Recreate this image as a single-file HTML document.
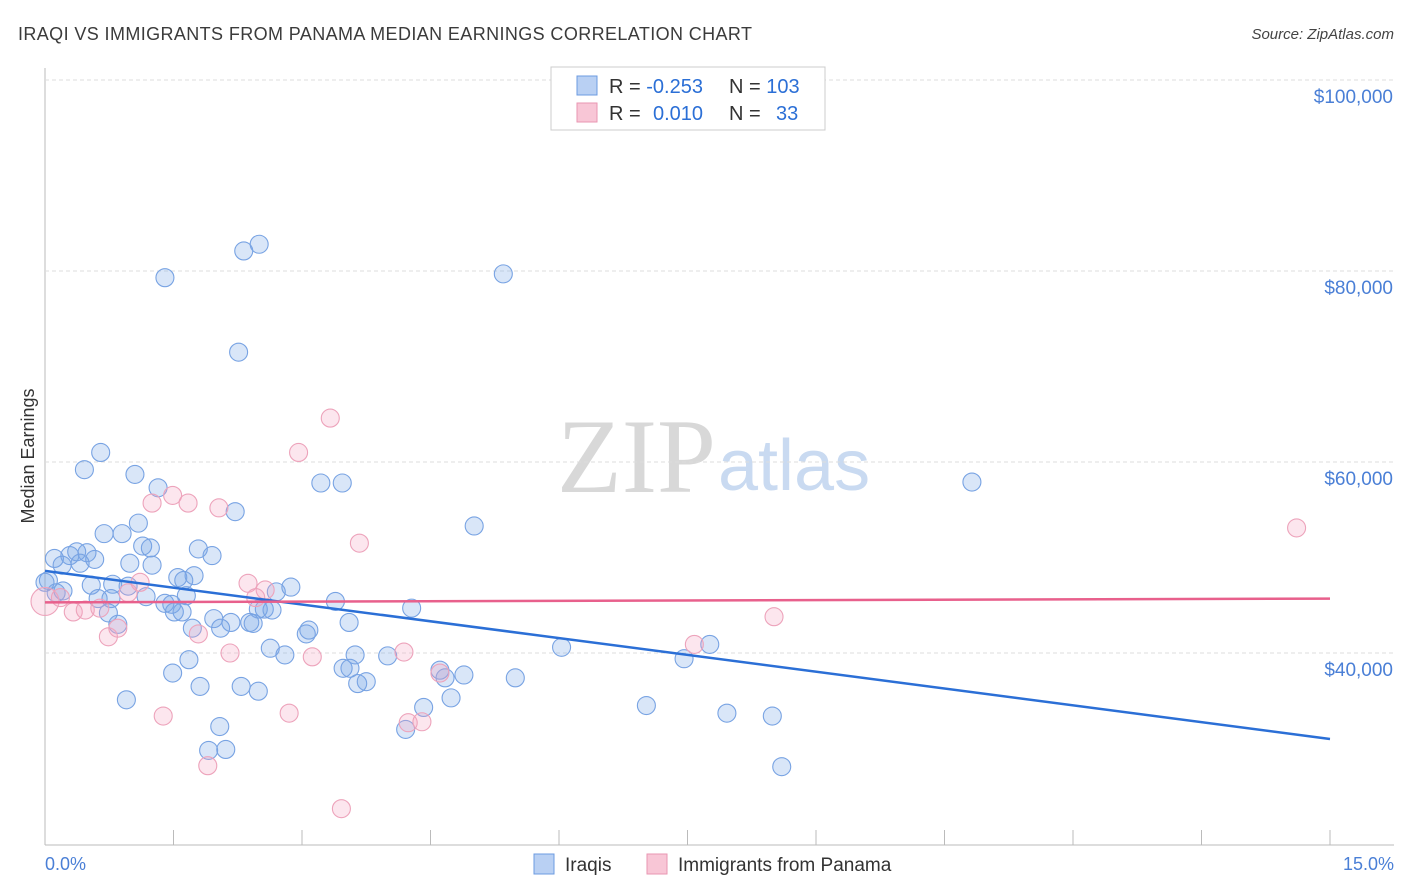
<!DOCTYPE html>
<html><head><meta charset="utf-8"><style>
body{margin:0;background:#fff;font-family:"Liberation Sans",sans-serif;}
#wrap{position:relative;width:1406px;height:892px;overflow:hidden;}
</style></head><body>
<div id="wrap">
<svg id="svg" width="1406" height="892" xmlns="http://www.w3.org/2000/svg">
<text x="18" y="40" font-size="18" fill="#3b3b3b" textLength="734">IRAQI VS IMMIGRANTS FROM PANAMA MEDIAN EARNINGS CORRELATION CHART</text>
<text x="1394" y="39" font-size="15" font-style="italic" fill="#444" text-anchor="end">Source: ZipAtlas.com</text>
<text x="716" y="492" font-size="106" font-family="Liberation Serif,serif" fill="#d8d8d8" text-anchor="end">ZIP</text>
<text x="718" y="490" font-size="72" fill="#c9daf1">atlas</text>
<text x="34" y="456" font-size="18" fill="#333" text-anchor="middle" transform="rotate(-90 34 456)">Median Earnings</text>
<g id="grid"></g><g id="pts"></g><g id="lines"></g>
<rect x="551" y="67" width="274" height="63" fill="#fff" stroke="#ccc"/>
<rect x="577" y="76" width="20" height="19" fill="#b9d0f3" stroke="#6c9be0"/>
<rect x="577" y="103" width="20" height="19" fill="#f8c6d6" stroke="#e996b2"/>
<text x="609" y="93" font-size="20" fill="#333">R = <tspan fill="#2b6fd6">-0.253</tspan><tspan x="729">N = </tspan><tspan fill="#2b6fd6">103</tspan></text>
<text x="609" y="120" font-size="20" fill="#333">R = <tspan x="653" fill="#2b6fd6">0.010</tspan><tspan x="729">N = </tspan><tspan x="776" fill="#2b6fd6">33</tspan></text>
<text x="45" y="870" font-size="18" fill="#4a7fd6">0.0%</text>
<text x="1394" y="870" font-size="18" fill="#4a7fd6" text-anchor="end">15.0%</text>
<rect x="534" y="854" width="20" height="20" fill="#b9d0f3" stroke="#6c9be0"/>
<text x="565" y="871" font-size="19" fill="#333">Iraqis</text>
<rect x="647" y="854" width="20" height="20" fill="#f8c6d6" stroke="#e996b2"/>
<text x="678" y="871" font-size="19" fill="#333">Immigrants from Panama</text>
</svg></div>
<script>
const blueX=[1.40,2.32,2.50,5.35,2.26,0.65,0.46,1.05,1.32,3.22,3.47,2.22,5.01,10.82,1.09,0.69,0.90,0.11,0.29,0.37,0.49,0.58,0.20,0.41,1.14,1.23,0.99,1.25,1.79,1.95,1.55,1.62,1.74,0.54,0.79,0.97,1.18,1.40,1.48,1.65,0.62,0.77,0.21,0.13,0.74,0.85,1.51,1.60,1.97,2.17,2.39,2.43,2.05,1.72,2.49,2.56,2.65,2.70,2.87,3.39,3.55,3.05,3.08,4.28,2.63,2.80,3.62,4.00,6.03,7.46,7.76,1.49,1.68,0.95,1.81,2.29,2.49,3.48,3.56,3.65,3.75,4.61,4.67,4.89,5.49,4.74,4.42,2.04,4.21,1.91,2.11,7.02,7.96,8.49,8.60,0.04,0.0];
const blueY=[79.3,82.1,82.8,79.7,71.5,61.0,59.2,58.7,57.3,57.8,57.8,54.8,53.3,57.9,53.6,52.5,52.5,49.9,50.2,50.6,50.5,49.8,49.2,49.4,51.2,51.0,49.4,49.2,50.9,50.2,47.9,47.6,48.1,47.1,47.2,47.0,45.9,45.2,45.1,46.0,45.7,45.7,46.5,46.3,44.2,43.0,44.3,44.3,43.6,43.2,43.2,43.1,42.6,42.6,44.6,44.6,44.5,46.4,46.9,45.4,43.2,42.0,42.4,44.7,40.5,39.8,39.8,39.7,40.6,39.4,40.9,37.9,39.3,35.1,36.5,36.5,36.0,38.4,38.4,36.8,37.0,38.2,37.4,37.7,37.4,35.3,34.3,32.3,32.0,29.8,29.9,34.5,33.7,33.4,28.1,47.6,47.4];
const pinkX=[3.33,2.96,1.25,1.49,1.67,2.03,3.67,14.61,1.11,2.37,2.57,2.46,0.0,0.18,0.33,0.47,0.64,0.97,0.74,0.85,2.16,1.79,3.12,4.19,7.58,8.51,1.38,2.85,4.24,4.40,1.90,3.46,4.61];
const pinkY=[64.6,61.0,55.7,56.5,55.7,55.2,51.5,53.1,47.4,47.3,46.6,45.8,45.4,45.8,44.3,44.5,44.7,46.3,41.7,42.6,40.0,42.0,39.6,40.1,40.9,43.8,33.4,33.7,32.7,32.8,28.2,23.7,37.9];
const yTicks=[40,60,80,100];
const yTickLabels=["$40,000","$60,000","$80,000","$100,000"];
const blueLineY=[48.6,31.0];
const pinkLineY=[45.3,45.7];
const lineX=[0,15];
const NS="http://www.w3.org/2000/svg";
const sx=v=>45+v*1285/15, sy=v=>80+(100-v)*9.55;
function mk(t,a,p){const e=document.createElementNS(NS,t);for(const k in a)e.setAttribute(k,a[k]);p.appendChild(e);return e;}
const grid=document.getElementById('grid'),pts=document.getElementById('pts'),lines=document.getElementById('lines');
let ax=mk('line',{x1:45,y1:68,x2:45,y2:845,stroke:'#bbb'},grid);


let bx=mk('line',{x1:45,y1:845,x2:1394,y2:845,stroke:'#bbb'},grid);


yTicks.forEach((t,i)=>{
 let g=mk('line',{x1:45,y1:sy(t),x2:1394,y2:sy(t),stroke:'#ddd','stroke-dasharray':'4 3'},grid);
 
 
 let tx=mk('text',{x:1393,y:sy(t)+23,'font-size':19,fill:'#4a7fd6','text-anchor':'end'},grid);
 tx.textContent=yTickLabels[i];
 
 
});
for(let i=0;i<=10;i++){
 let tk=mk('line',{x1:sx(i*1.5),y1:830,x2:sx(i*1.5),y2:845,stroke:'#bbb'},grid);
 
 
}
blueX.forEach((x,i)=>{
 let c=mk('circle',{cx:sx(x),cy:sy(blueY[i]),r:9,fill:'rgba(120,165,230,0.28)',stroke:'#78a3e3','stroke-width':1.1},pts);
 
 
});
pinkX.forEach((x,i)=>{
 let c=mk('circle',{cx:sx(x),cy:sy(pinkY[i]),r:i==12?14:9,fill:'rgba(245,165,195,0.28)',stroke:'#eda3bb','stroke-width':1.1},pts);
 
 
});
let bl=mk('line',{x1:sx(lineX[0]),y1:sy(blueLineY[0]),x2:sx(lineX[1]),y2:sy(blueLineY[1]),stroke:'#2b6fd6','stroke-width':2.5},lines);


let pl=mk('line',{x1:sx(lineX[0]),y1:sy(pinkLineY[0]),x2:sx(lineX[1]),y2:sy(pinkLineY[1]),stroke:'#e8608c','stroke-width':2.5},lines);


</script>
</body></html>
